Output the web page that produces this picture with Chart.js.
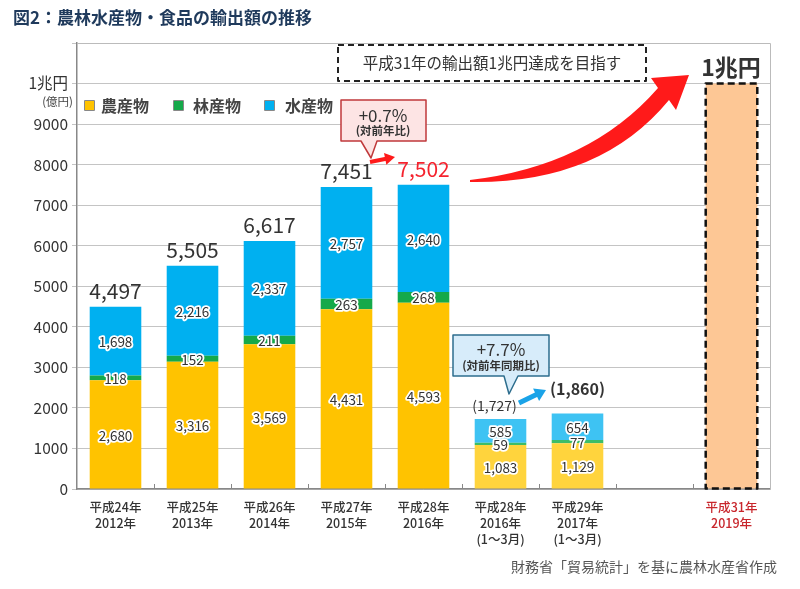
<!DOCTYPE html>
<html>
<head>
<meta charset="utf-8">
<script src="https://cdn.jsdelivr.net/npm/chart.js@4/dist/chart.umd.min.js"></script>
<style>
  html, body { margin: 0; padding: 0; background: #fff; }
  #wrap { width: 800px; height: 589px; }
</style>
</head>
<body>
<div id="wrap"><canvas id="chart" width="800" height="589"></canvas></div>
<script>
const categories = [
    ["平成24年", "2012年"],
    ["平成25年", "2013年"],
    ["平成26年", "2014年"],
    ["平成27年", "2015年"],
    ["平成28年", "2016年"],
    ["平成28年", "2016年", "(1～3月)"],
    ["平成29年", "2017年", "(1～3月)"],
    "",
    ["平成31年", "2019年"]
]

// 億円
const agri   = [2680, 3136, 3569, 4431, 4593, 1083, 1129, null, null]
const forest = [118, 152, 211, 263, 268, 59, 77, null, null]
const fish   = [1698, 2216, 2337, 2757, 2640, 585, 654, null, null]
const target = [null, null, null, null, null, null, null, null, 10000]

// labels as printed in the figure
const agriLabels  = ["2,680", "3,316", "3,569", "4,431", "4,593", "1,083", "1,129"]
const totalLabels = ["4,497", "5,505", "6,617", "7,451", "7,502", "(1,727)", "(1,860)"]

const FONT = "'Noto Sans CJK JP', 'Noto Sans', sans-serif"
const TEXT = "#333"

const shade = (main, light) => categories.map((c, i) => (i === 5 || i === 6) ? light : main)

function fmt(v) {
    return v.toLocaleString("en-US")
}

function outlined(ctx, str, x, y, size) {
    ctx.font = `${size}px ${FONT}`
    ctx.textAlign = "center"
    ctx.textBaseline = "middle"
    ctx.lineJoin = "round"
    ctx.lineWidth = 3.5
    ctx.strokeStyle = "#fff"
    ctx.strokeText(str, x, y)
    ctx.fillStyle = TEXT
    ctx.fillText(str, x, y)
}

function text(ctx, str, x, y, font, color, align) {
    ctx.font = font
    ctx.fillStyle = color
    ctx.textAlign = align || "center"
    ctx.textBaseline = "middle"
    ctx.fillText(str, x, y)
}

function arrow(ctx, x1, y1, x2, y2, w, headLen, headW, color) {
    const len = Math.hypot(x2 - x1, y2 - y1)
    const dx = (x2 - x1) / len, dy = (y2 - y1) / len
    const bx = x2 - dx * headLen, by = y2 - dy * headLen
    ctx.save()
    ctx.strokeStyle = color
    ctx.fillStyle = color
    ctx.lineWidth = w
    ctx.beginPath()
    ctx.moveTo(x1, y1)
    ctx.lineTo(bx + dx, by + dy)
    ctx.stroke()
    ctx.beginPath()
    ctx.moveTo(x2, y2)
    ctx.lineTo(bx - dy * headW, by + dx * headW)
    ctx.lineTo(bx + dy * headW, by - dx * headW)
    ctx.closePath()
    ctx.fill()
    ctx.restore()
}

function callout(ctx, x, y, w, h, p1, p2, tx, ty, fill, stroke) {
    ctx.save()
    ctx.beginPath()
    ctx.moveTo(x, y)
    ctx.lineTo(x + w, y)
    ctx.lineTo(x + w, y + h)
    ctx.lineTo(p2, y + h)
    ctx.lineTo(tx, ty)
    ctx.lineTo(p1, y + h)
    ctx.lineTo(x, y + h)
    ctx.closePath()
    ctx.fillStyle = fill
    ctx.fill()
    ctx.strokeStyle = stroke
    ctx.lineWidth = 1.5
    ctx.stroke()
    ctx.restore()
}

const decor = {
    id: "decor",
    afterDatasetsDraw(chart) {
        const ctx = chart.ctx

        // segment values
        ;[0, 1, 2].forEach(di => {
            const meta = chart.getDatasetMeta(di)
            meta.data.forEach((el, i) => {
                const v = chart.data.datasets[di].data[i]
                if (v == null) return
                const str = di === 0 ? agriLabels[i] : fmt(v)
                outlined(ctx, str, el.x, (el.y + el.base) / 2 + 1, 13.5)
            })
        })

        // totals above bars
        const top = chart.getDatasetMeta(2).data
        totalLabels.forEach((str, i) => {
            const el = top[i]
            if (i < 5) {
                text(ctx, str, el.x, el.y - 16, `21px ${FONT}`, i === 4 ? "#f5222d" : TEXT)
            }
        })
        text(ctx, totalLabels[5], top[5].x - 6, top[5].y - 13, `14px ${FONT}`, TEXT)
        text(ctx, totalLabels[6], top[6].x, top[6].y - 25, `bold 16px ${FONT}`, TEXT)

        // target bar dashed outline
        const tg = chart.getDatasetMeta(3).data[8]
        ctx.save()
        ctx.setLineDash([7, 4])
        ctx.lineWidth = 2.5
        ctx.strokeStyle = "#111"
        ctx.strokeRect(tg.x - tg.width / 2, tg.y, tg.width, tg.base - tg.y)
        ctx.restore()
    },
    afterDraw(chart) {
        const ctx = chart.ctx
        const area = chart.chartArea
        const xs = chart.scales.x

        // frame on top / right
        ctx.save()
        ctx.strokeStyle = "#bbb"
        ctx.lineWidth = 1
        ctx.beginPath()
        ctx.moveTo(area.left, area.top + 0.5)
        ctx.lineTo(area.right + 0.5, area.top + 0.5)
        ctx.lineTo(area.right + 0.5, area.bottom)
        ctx.stroke()

        // small ticks between categories
        ctx.strokeStyle = "#888"
        ctx.beginPath()
        for (let i = 0; i < categories.length - 1; i++) {
            const x = Math.round((xs.getPixelForValue(i) + xs.getPixelForValue(i + 1)) / 2) + 0.5
            ctx.moveTo(x, area.bottom)
            ctx.lineTo(x, area.bottom - 5)
        }
        ctx.stroke()
        ctx.restore()

        // title + source
        text(ctx, "図2：農林水産物・食品の輸出額の推移", 13, 18, `bold 17px ${FONT}`, "#1f3a5c", "left")
        text(ctx, "財務省「貿易統計」を基に農林水産省作成", 777, 567, `14px ${FONT}`, "#555", "right")

        // unit
        text(ctx, "(億円)", 73, 102, `11.5px ${FONT}`, "#444", "right")

        // legend
        const legend = [["農産物", "#ffc300", 85, 101], ["林産物", "#15a94a", 174, 193], ["水産物", "#00b0f0", 265, 285]]
        legend.forEach(([name, color, sx, tx]) => {
            ctx.fillStyle = color
            ctx.fillRect(sx, 101, 9, 9)
            ctx.strokeStyle = "#888"
            ctx.lineWidth = 1
            ctx.strokeRect(sx - 0.5, 100.5, 10, 10)
            text(ctx, name, tx, 106, `bold 16px ${FONT}`, "#444", "left")
        })

        // goal box
        ctx.save()
        ctx.setLineDash([6, 4])
        ctx.lineWidth = 2
        ctx.strokeStyle = "#222"
        ctx.strokeRect(338, 45, 308, 36)
        ctx.restore()
        text(ctx, "平成31年の輸出額1兆円達成を目指す", 492, 63, `15.5px ${FONT}`, TEXT)
        text(ctx, "1兆円", 731, 67, `bold 23px ${FONT}`, TEXT)

        // big red arrow
        ctx.save()
        ctx.fillStyle = "#ff1a1a"
        ctx.beginPath()
        ctx.moveTo(470, 180)
        ctx.quadraticCurveTo(590, 166, 658, 88)
        ctx.lineTo(651, 78)
        ctx.lineTo(689, 75)
        ctx.lineTo(676, 110)
        ctx.lineTo(669, 100)
        ctx.quadraticCurveTo(600, 184, 470, 182)
        ctx.closePath()
        ctx.fill()
        ctx.restore()

        // +0.7% callout
        callout(ctx, 341, 100, 85, 41, 361, 377, 371, 158, "#fde4e4", "#c0393b")
        text(ctx, "+0.7%", 383, 116, `17px ${FONT}`, TEXT)
        text(ctx, "(対前年比)", 383, 131, `bold 11.5px ${FONT}`, TEXT)
        arrow(ctx, 370, 162, 395, 157, 4, 10, 6, "#ff1a1a")

        // +7.7% callout
        callout(ctx, 453, 335, 96, 41, 504, 518, 509, 394, "#d7ecfa", "#2e6e8e")
        text(ctx, "+7.7%", 501, 350, `17px ${FONT}`, TEXT)
        text(ctx, "(対前年同期比)", 501, 366, `bold 11.5px ${FONT}`, TEXT)
        arrow(ctx, 519, 403, 546, 390, 5, 11, 7, "#1aa3e8")
    }
}

Chart.defaults.font.family = FONT

new Chart(document.getElementById("chart"), {
    type: "bar",
    data: {
        labels: categories,
        datasets: [
            { label: "農産物", data: agri, backgroundColor: shade("#ffc300", "#ffd43d") },
            { label: "林産物", data: forest, backgroundColor: shade("#15a94a", "#3cbd68") },
            { label: "水産物", data: fish, backgroundColor: shade("#00b0f0", "#3ec3f3") },
            { label: "目標", data: target, backgroundColor: "#fdc795" }
        ]
    },
    options: {
        responsive: false,
        animation: false,
        layout: { padding: { top: 43, right: 30, left: 0, bottom: 0 } },
        datasets: { bar: { barPercentage: 0.67, categoryPercentage: 1, borderWidth: 0 } },
        plugins: {
            legend: { display: false },
            tooltip: { enabled: false }
        },
        scales: {
            x: {
                stacked: true,
                grid: { display: false },
                border: { color: "#888", width: 1.5 },
                ticks: {
                    autoSkip: false,
                    maxRotation: 0,
                    padding: 2,
                    font: { size: 12.5, weight: 500, lineHeight: 1.3 },
                    color: c => c.index === 8 ? "#c8262c" : TEXT
                },
                afterFit: s => { s.height = 100 }
            },
            y: {
                stacked: true,
                min: 0,
                max: 11000,
                grid: { color: "#c4c4c4", tickLength: 5 },
                border: { color: "#888", width: 1.5 },
                ticks: {
                    stepSize: 1000,
                    padding: 4,
                    color: TEXT,
                    font: { size: 15.5 },
                    callback: v => v === 10000 ? "1兆円" : v > 10000 ? "" : String(v)
                },
                afterFit: s => { s.width = 77 }
            }
        }
    },
    plugins: [decor]
})
</script>
</body>
</html>
